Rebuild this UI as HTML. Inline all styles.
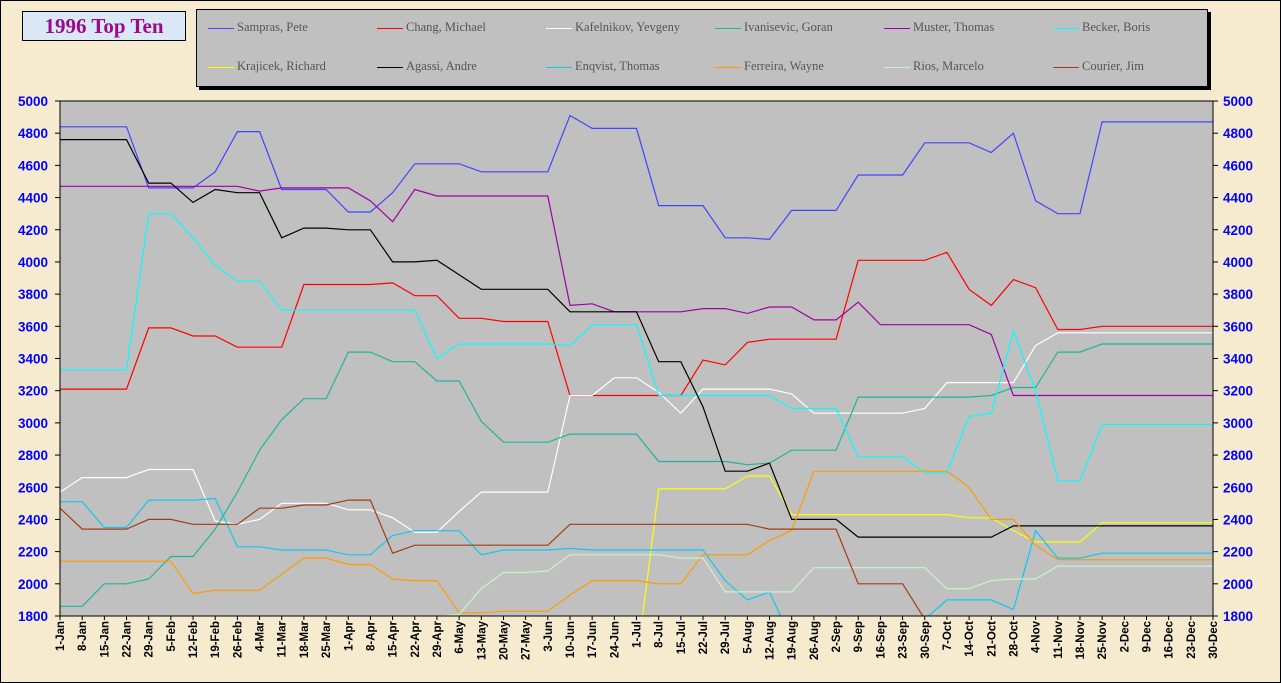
<!DOCTYPE html>
<html><head><meta charset="utf-8"><style>
html,body{margin:0;padding:0;}
body{width:1281px;height:683px;background:#f7ebcf;overflow:hidden;position:relative;font-family:"Liberation Sans",sans-serif;}
#frame{position:absolute;left:0;top:0;width:1279px;height:681px;border:1px solid #000;}
#title{position:absolute;left:22px;top:11px;width:162px;height:28px;background:#dbe8f5;border:1px solid #000;font:bold 21px "Liberation Serif",serif;color:#990a8c;text-align:center;line-height:28px;}
#legend{position:absolute;left:196px;top:9px;width:1010px;height:76px;background:#c0c0c0;border:1px solid #000;box-shadow:3px 3px 0 #000;}
.li{position:absolute;font:12.5px "Liberation Serif",serif;color:#555;}
.li i{display:inline-block;width:26px;height:1px;vertical-align:middle;margin-right:3px;}
</style></head><body>
<div id="frame"></div>
<div id="title">1996 Top Ten</div>
<div id="legend"></div>
<svg id="ch" width="1281" height="683" style="position:absolute;left:0;top:0"></svg>
<script>
var R=function(a){var o=[];a.forEach(function(p){for(var k=0;k<p[1];k++)o.push(p[0]);});return o;};
var S=[
["Sampras, Pete","#4444ff",[4840,4840,4840,4840,4460,4460,4460,4560,4810,4810,4450,4450,4450,4310,4310,4430,4610,4610,4610,4560,4560,4560,4560,4910,4830,4830,4830,4350,4350,4350,4150,4150,4140,4320,4320,4320,4540,4540,4540,4740,4740,4740,4680,4800,4380,4300,4300,4870,4870,4870,4870,4870,4870]],
["Chang, Michael","#ff0000",[3210,3210,3210,3210,3590,3590,3540,3540,3470,3470,3470,3860,3860,3860,3860,3870,3790,3790,3650,3650,3630,3630,3630,3170,3170,3170,3170,3170,3170,3390,3360,3500,3520,3520,3520,3520,4010,4010,4010,4010,4060,3830,3730,3890,3840,3580,3580,3600,3600,3600,3600,3600,3600]],
["Kafelnikov, Yevgeny","#ffffff",[2570,2660,2660,2660,2710,2710,2710,2390,2370,2400,2500,2500,2500,2460,2460,2410,2320,2320,2450,2570,2570,2570,2570,3170,3170,3280,3280,3190,3060,3210,3210,3210,3210,3180,3060,3060,3060,3060,3060,3090,3250,3250,3250,3250,3480,3560,3560,3560,3560,3560,3560,3560,3560]],
["Ivanisevic, Goran","#20b49c",[1860,1860,2000,2000,2030,2170,2170,2340,2570,2830,3020,3150,3150,3440,3440,3380,3380,3260,3260,3010,2880,2880,2880,2930,2930,2930,2930,2760,2760,2760,2760,2740,2750,2830,2830,2830,3160,3160,3160,3160,3160,3160,3170,3220,3220,3440,3440,3490,3490,3490,3490,3490,3490]],
["Muster, Thomas","#a000a8",[4470,4470,4470,4470,4470,4470,4470,4470,4470,4440,4460,4460,4460,4460,4380,4250,4450,4410,4410,4410,4410,4410,4410,3730,3740,3690,3690,3690,3690,3710,3710,3680,3720,3720,3640,3640,3750,3610,3610,3610,3610,3610,3550,3170,3170,3170,3170,3170,3170,3170,3170,3170,3170]],
["Becker, Boris","#00ffff",[3330,3330,3330,3330,4300,4300,4150,3980,3880,3880,3700,3700,3700,3700,3700,3700,3700,3400,3490,3490,3490,3490,3490,3480,3610,3610,3610,3170,3170,3170,3170,3170,3170,3090,3090,3090,2790,2790,2790,2690,2690,3040,3060,3570,3200,2640,2640,2990,2990,2990,2990,2990,2990]],
["Krajicek, Richard","#ffff00",[1500,1500,1500,1500,1500,1500,1500,1500,1500,1500,1500,1500,1500,1500,1500,1500,1500,1500,1500,1500,1500,1500,1500,1500,1500,1500,1500,2590,2590,2590,2590,2670,2670,2430,2430,2430,2430,2430,2430,2430,2430,2410,2410,2330,2260,2260,2260,2380,2380,2380,2380,2380,2380]],
["Agassi, Andre","#000000",[4760,4760,4760,4760,4490,4490,4370,4450,4430,4430,4150,4210,4210,4200,4200,4000,4000,4010,3920,3830,3830,3830,3830,3690,3690,3690,3690,3380,3380,3100,2700,2700,2750,2400,2400,2400,2290,2290,2290,2290,2290,2290,2290,2360,2360,2360,2360,2360,2360,2360,2360,2360,2360]],
["Enqvist, Thomas","#10c8f0",[2510,2510,2350,2350,2520,2520,2520,2530,2230,2230,2210,2210,2210,2180,2180,2300,2330,2330,2330,2180,2210,2210,2210,2220,2210,2210,2210,2210,2210,2210,2020,1900,1950,1650,1600,1600,1600,1600,1600,1780,1900,1900,1900,1840,2330,2160,2160,2190,2190,2190,2190,2190,2190]],
["Ferreira, Wayne","#ff9a00",[2140,2140,2140,2140,2140,2140,1940,1960,1960,1960,2060,2160,2160,2120,2120,2030,2020,2020,1820,1820,1830,1830,1830,1930,2020,2020,2020,2000,2000,2180,2180,2180,2270,2330,2700,2700,2700,2700,2700,2700,2700,2600,2400,2400,2240,2150,2150,2150,2150,2150,2150,2150,2150]],
["Rios, Marcelo","#c8f4c8",[1600,1600,1600,1600,1600,1600,1600,1600,1600,1600,1600,1600,1600,1600,1600,1600,1600,1795,1810,1970,2070,2070,2080,2180,2180,2180,2180,2180,2160,2160,1950,1950,1950,1950,2100,2100,2100,2100,2100,2100,1970,1970,2020,2030,2030,2110,2110,2110,2110,2110,2110,2110,2110]],
["Courier, Jim","#a33c14",[2470,2340,2340,2340,2400,2400,2370,2370,2370,2470,2470,2490,2490,2520,2520,2190,2240,2240,2240,2240,2240,2240,2240,2370,2370,2370,2370,2370,2370,2370,2370,2370,2340,2340,2340,2340,2000,2000,2000,1780,1600,1600,1600,1600,1600,1600,1600,1600,1600,1600,1600,1600,1600]]
];
var dates="1-Jan 8-Jan 15-Jan 22-Jan 29-Jan 5-Feb 12-Feb 19-Feb 26-Feb 4-Mar 11-Mar 18-Mar 25-Mar 1-Apr 8-Apr 15-Apr 22-Apr 29-Apr 6-May 13-May 20-May 27-May 3-Jun 10-Jun 17-Jun 24-Jun 1-Jul 8-Jul 15-Jul 22-Jul 29-Jul 5-Aug 12-Aug 19-Aug 26-Aug 2-Sep 9-Sep 16-Sep 23-Sep 30-Sep 7-Oct 14-Oct 21-Oct 28-Oct 4-Nov 11-Nov 18-Nov 25-Nov 2-Dec 9-Dec 16-Dec 23-Dec 30-Dec".split(" ");
var L=60,Rr=1213,T=101,B=616,st=(Rr-L)/52;
function X(i){return L+i*st;}function Y(v){return B-(v-1800)*(B-T)/3200;}
var h='<defs><clipPath id="cp"><rect x="'+L+'" y="'+T+'" width="'+(Rr-L)+'" height="'+(B-T)+'"/></clipPath></defs>';
h+='<rect x="'+L+'" y="'+T+'" width="'+(Rr-L)+'" height="'+(B-T)+'" fill="#c0c0c0"/>';
h+='<g clip-path="url(#cp)">';
S.forEach(function(s){var p=s[2].map(function(v,i){return X(i).toFixed(1)+','+Y(v).toFixed(1);}).join(' ');h+='<polyline points="'+p+'" fill="none" stroke="'+s[1]+'" stroke-width="1.2"/>';});
h+='</g>';
h+='<rect x="'+L+'" y="'+T+'" width="'+(Rr-L)+'" height="'+(B-T)+'" fill="none" stroke="#000" stroke-width="1"/>';
for(var v=1800;v<=5000;v+=200){var y=Y(v);h+='<line x1="'+(L-5)+'" x2="'+L+'" y1="'+y+'" y2="'+y+'" stroke="#000"/><line x1="'+Rr+'" x2="'+(Rr+5)+'" y1="'+y+'" y2="'+y+'" stroke="#000"/>';
h+='<text x="'+(L-12)+'" y="'+(y+5)+'" text-anchor="end" font-family="Liberation Sans" font-weight="bold" font-size="13.5" fill="#0000ff">'+v+'</text>';
h+='<text x="'+(Rr+10)+'" y="'+(y+5)+'" font-family="Liberation Sans" font-weight="bold" font-size="13.5" fill="#0000ff">'+v+'</text>';}
dates.forEach(function(d,i){var x=X(i);h+='<line x1="'+x+'" x2="'+x+'" y1="'+B+'" y2="'+(B+4)+'" stroke="#000"/><text transform="translate('+(x+4)+','+(B+5)+') rotate(-90)" text-anchor="end" font-family="Liberation Sans" font-weight="bold" font-size="11.5" fill="#000">'+d+'</text>';});
document.getElementById('ch').innerHTML=h;
var lg='';S.forEach(function(s,k){var r=Math.floor(k/6),c=k%6;lg+='<div class="li" style="left:'+(11+c*169)+'px;top:'+(10+r*39)+'px"><i style="background:'+s[1]+'"></i>'+s[0]+'</div>';});
document.getElementById('legend').innerHTML=lg;
</script>
</body></html>
